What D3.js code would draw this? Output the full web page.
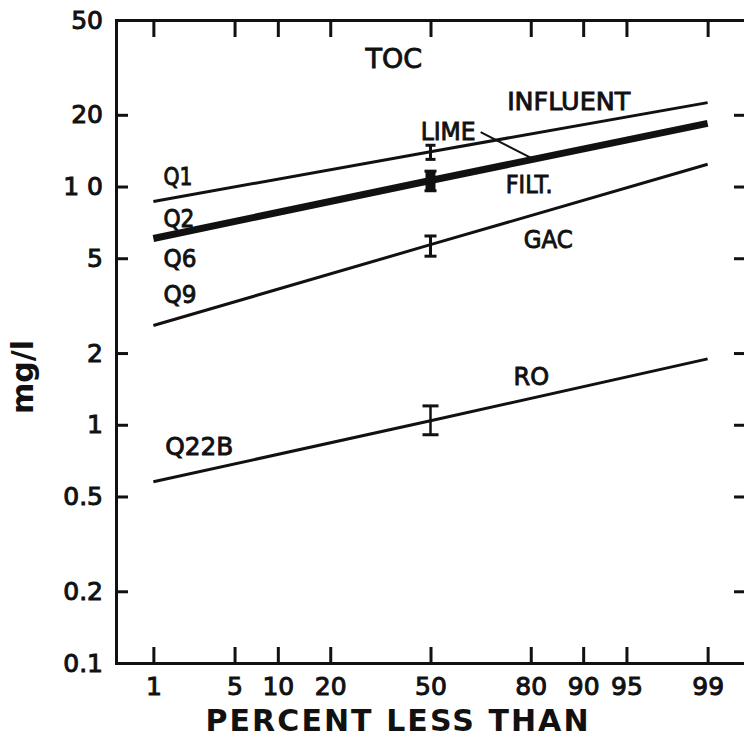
<!DOCTYPE html>
<html>
<head>
<meta charset="utf-8">
<script src="https://cdn.jsdelivr.net/npm/d3@7"></script>
<style>
  body { margin: 0; background: #fff; }
  svg { display: block; }
  .axis path, .axis line { stroke: #111; stroke-width: 3; }
  .axis text { font-family: "DejaVu Sans", sans-serif; font-size: 25px; fill: #111; stroke: #111; stroke-width: 1; }
  .lbl { font-family: "DejaVu Sans", sans-serif; font-size: 24px; fill: #111; stroke: #111; stroke-width: 0.9; }
</style>
</head>
<body>
<div id="chart"></div>
<script>
// percent-less-than positions where the fitted lines were read
const percents = [1, 50, 99];

// TOC, mg/l
const influent = [8.65, 14.0, 22.5];
const limeFilt = [6.05, 10.6, 18.4];
const gac = [2.61, 5.7, 12.4];
const ro = [0.576, 1.04, 1.89];

// error bars at the median
const errPercent = 50;
const errLow = [13.0, 9.6, 5.1, 0.908];
const errHigh = [14.9, 11.6, 6.2, 1.20];

// axis ticks
const xTicks = [1, 5, 10, 20, 50, 80, 90, 95, 99];
const xTickLabels = ["1", "5", "10", "20", "50", "80", "90", "95", "99"];
const yTicks = [0.1, 0.2, 0.5, 1, 2, 5, 10, 20, 50];
const yTickLabels = ["0.1", "0.2", "0.5", "1", "2", "5", "1 0", "20", "50"];

// text labels, placed in data units (percent, mg/l)
const labels = [
    {text: "TOC", p: 29.3, v: 31.4, size: 27},
    {text: "INFLUENT", p: 74, v: 20.9, len: 123},
    {text: "LIME", p: 46.7, v: 15.7, len: 55},
    {text: "FILT.", p: 73.6, v: 9.4, len: 47},
    {text: "GAC", p: 78.3, v: 5.52, len: 49},
    {text: "RO", p: 75.7, v: 1.47},
    {text: "Q1", p: 1.25, v: 10.15, len: 29},
    {text: "Q2", p: 1.25, v: 6.77, len: 31},
    {text: "Q6", p: 1.25, v: 4.6, len: 33},
    {text: "Q9", p: 1.25, v: 3.25, len: 33},
    {text: "Q22B", p: 1.3, v: 0.747, len: 68}
];
const leader = [{p: 66.3, v: 16.9}, {p: 80.4, v: 13.1}];

// inverse normal cdf (Acklam)
function probit(p) {
    const a = [-3.969683028665376e+01, 2.209460984245205e+02, -2.759285104469687e+02, 1.383577518672690e+02, -3.066479806614716e+01, 2.506628277459239e+00];
    const b = [-5.447609879822406e+01, 1.615858368580409e+02, -1.556989798598866e+02, 6.680131188771972e+01, -1.328068155288572e+01];
    const c = [-7.784894002430293e-03, -3.223964580411365e-01, -2.400758277161838e+00, -2.549732539343734e+00, 4.374664141464968e+00, 2.938163982698783e+00];
    const d = [7.784695709041462e-03, 3.224671290700398e-01, 2.445134137142996e+00, 3.754408661907416e+00];
    const pl = 0.02425;
    let q, r;
    if (p < pl) {
        q = Math.sqrt(-2 * Math.log(p));
        return (((((c[0]*q+c[1])*q+c[2])*q+c[3])*q+c[4])*q+c[5]) / ((((d[0]*q+d[1])*q+d[2])*q+d[3])*q+1);
    }
    if (p > 1 - pl) {
        q = Math.sqrt(-2 * Math.log(1 - p));
        return -(((((c[0]*q+c[1])*q+c[2])*q+c[3])*q+c[4])*q+c[5]) / ((((d[0]*q+d[1])*q+d[2])*q+d[3])*q+1);
    }
    q = p - 0.5; r = q * q;
    return (((((a[0]*r+a[1])*r+a[2])*r+a[3])*r+a[4])*r+a[5])*q / (((((b[0]*r+b[1])*r+b[2])*r+b[3])*r+b[4])*r+1);
}

const W = 744, H = 739;
const margin = {top: 20, right: -1, bottom: 76, left: 116};

const svg = d3.select("#chart").append("svg")
    .attr("width", W).attr("height", H);

// x is linear in the normal quantile
const xz = d3.scaleLinear().domain([-2.64, 2.64]).range([margin.left, W - margin.right]);
const x = p => xz(probit(p / 100));
const y = d3.scaleLog().domain([0.1, 50]).range([H - margin.bottom, margin.top]);

const zTicks = xTicks.map(p => probit(p / 100));

// frame: bottom, top, left, right (right sits just off the page)
svg.append("g").attr("class", "axis")
    .attr("transform", `translate(0,${H - margin.bottom})`)
    .call(d3.axisBottom(xz).tickValues(zTicks).tickSize(-16).tickSizeOuter(0).tickPadding(14)
        .tickFormat((d, i) => xTickLabels[i]));

svg.append("g").attr("class", "axis")
    .attr("transform", `translate(0,${margin.top})`)
    .call(d3.axisTop(xz).tickValues(zTicks).tickSize(-17).tickSizeOuter(0).tickFormat(""));

svg.append("g").attr("class", "axis")
    .attr("transform", `translate(${margin.left},0)`)
    .call(d3.axisLeft(y).tickValues(yTicks).tickSize(-12).tickSizeOuter(0).tickPadding(13)
        .tickFormat((d, i) => yTickLabels[i]));

svg.append("g").attr("class", "axis")
    .attr("transform", `translate(${W - margin.right},0)`)
    .call(d3.axisRight(y).tickValues(yTicks.slice(0, -1)).tickSize(-11).tickSizeOuter(0).tickFormat(""));

svg.selectAll(".axis .domain").attr("stroke-linecap", "square");

// fitted lines
const line = d3.line().x(d => x(d.p)).y(d => y(d.v));
const series = [
    {vals: influent, w: 3},
    {vals: limeFilt, w: 7},
    {vals: gac, w: 3},
    {vals: ro, w: 3}
];
svg.selectAll(".series")
    .data(series)
    .enter().append("path")
    .attr("class", "series")
    .attr("d", s => line(percents.map((p, i) => ({p: p, v: s.vals[i]}))))
    .attr("fill", "none")
    .attr("stroke", "#111")
    .attr("stroke-width", s => s.w);

// error bars
const capW = [10, 12, 12, 16];
const barW = [3, 10, 3, 2.5];
const eb = svg.selectAll(".err")
    .data(errLow.map((lo, i) => ({lo: lo, hi: errHigh[i], i: i})))
    .enter().append("g").attr("class", "err");
const ex = x(errPercent);
eb.append("line")
    .attr("x1", ex).attr("x2", ex)
    .attr("y1", d => y(d.lo)).attr("y2", d => y(d.hi))
    .attr("stroke", "#111").attr("stroke-width", d => barW[d.i]);
eb.selectAll(".cap")
    .data(d => [d.lo, d.hi].map(v => ({v: v, i: d.i})))
    .enter().append("line").attr("class", "cap")
    .attr("x1", d => ex - capW[d.i] / 2).attr("x2", d => ex + capW[d.i] / 2)
    .attr("y1", d => y(d.v)).attr("y2", d => y(d.v))
    .attr("stroke", "#111").attr("stroke-width", 3);

// labels
svg.selectAll(".lbl")
    .data(labels)
    .enter().append("text")
    .attr("class", "lbl")
    .attr("x", d => x(d.p))
    .attr("y", d => y(d.v))
    .style("font-size", d => (d.size || 24) + "px")
    .attr("textLength", d => d.len || null)
    .attr("lengthAdjust", "spacingAndGlyphs")
    .text(d => d.text);

svg.append("path")
    .attr("d", line(leader))
    .attr("fill", "none").attr("stroke", "#111").attr("stroke-width", 2);

// axis titles
svg.append("text")
    .attr("x", 397).attr("y", 731)
    .attr("text-anchor", "middle")
    .attr("textLength", 383).attr("lengthAdjust", "spacing")
    .style("font-family", "DejaVu Sans, sans-serif").style("font-weight", "bold")
    .style("font-size", "30px").attr("fill", "#111")
    .text("PERCENT LESS THAN");

svg.append("text")
    .attr("transform", "translate(33,377) rotate(-90)")
    .attr("text-anchor", "middle")
    .style("font-family", "DejaVu Sans, sans-serif").style("font-weight", "bold")
    .style("font-size", "30px").attr("fill", "#111")
    .text("mg/l");
</script>
</body>
</html>
